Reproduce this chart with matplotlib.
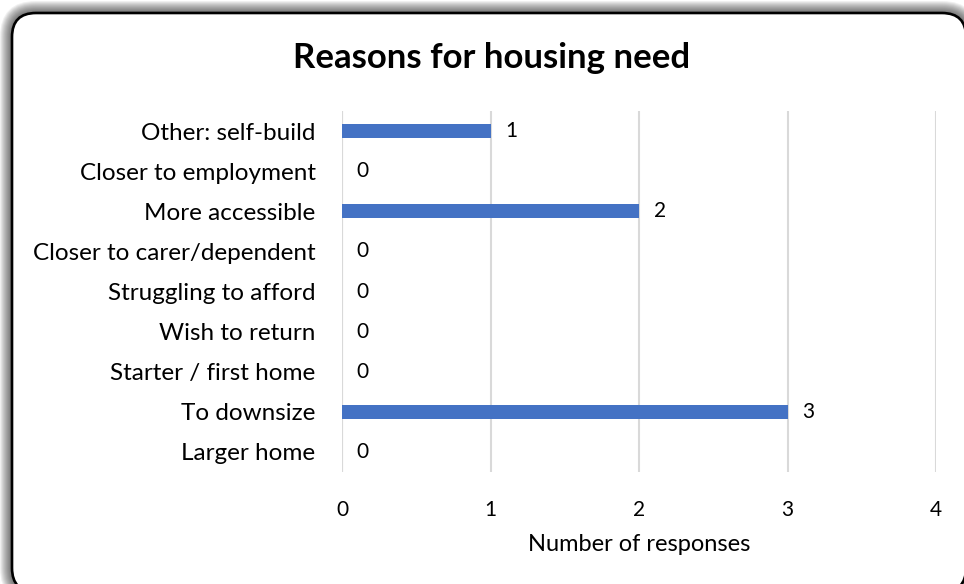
import matplotlib
matplotlib.use("Agg")
import matplotlib.pyplot as plt
from matplotlib.patches import FancyBboxPatch

categories = ["Larger home", "To downsize", "Starter / first home", "Wish to return",
              "Struggling to afford", "Closer to carer/dependent", "More accessible",
              "Closer to employment", "Other: self-build"]
values = [0, 3, 0, 0, 0, 0, 2, 0, 1]
xticks = [0, 1, 2, 3, 4]
title = "Reasons for housing need"
xlabel = "Number of responses"

FONT = ["Lato", "DejaVu Sans"]
plt.rcParams['font.family'] = FONT

W, H = 964, 584
fig = plt.figure(figsize=(W / 100, H / 100), dpi=100)
fig.patch.set_facecolor("white")

# background frame with shadow
bg = fig.add_axes([0, 0, 1, 1], zorder=0)
bg.set_xlim(0, W)
bg.set_ylim(H, 0)
bg.axis("off")
x0, y0, x1, y1 = 12, 13, 966, 592
for i in range(12, 0, -1):
    bg.add_patch(FancyBboxPatch((x0 - i, y0 - i), (x1 - x0) + 2 * i, (y1 - y0) + 2 * i,
                                boxstyle=f"round,pad=0,rounding_size={24 + i}",
                                fc=(0, 0, 0, 0.06), ec="none"))
bg.add_patch(FancyBboxPatch((x0, y0), x1 - x0, y1 - y0,
                            boxstyle="round,pad=0,rounding_size=24",
                            fc="white", ec="black", lw=1.9))

ax = fig.add_axes([342 / W, 1 - 472 / H, (936 - 342) / W, (472 - 111) / H], zorder=1)
ax.patch.set_alpha(0)
ypos = list(range(len(categories)))
ax.barh(ypos, values, height=0.35, color="#4472C4", zorder=2)
for y, v in zip(ypos, values):
    ax.text(v + 0.1, y, str(v), va="center", ha="left", fontsize=15, color="black")

ax.set_xlim(0, 4)
ax.set_ylim(-0.5, len(categories) - 0.5)
ax.set_xticks(xticks)
ax.set_xticklabels([str(t) for t in xticks], fontsize=15)
ax.set_yticks(ypos)
ax.set_yticklabels(categories, fontsize=17.5)
ax.tick_params(axis="both", length=0, colors="black")
ax.tick_params(axis="x", pad=20)
ax.tick_params(axis="y", pad=19)
ax.xaxis.grid(True, color="#D9D9D9", lw=1.5, zorder=0)
ax.set_axisbelow(True)
for s in ax.spines.values():
    s.set_visible(False)
ax.axvline(0, color="#D9D9D9", lw=1.5, zorder=1)

ax.set_xlabel(xlabel, fontsize=17, labelpad=10)
fig.text(492 / W, 1 - 58 / H, title, ha="center", va="center", fontsize=25,
         fontweight="bold")

fig.savefig("out.png", dpi=100)
